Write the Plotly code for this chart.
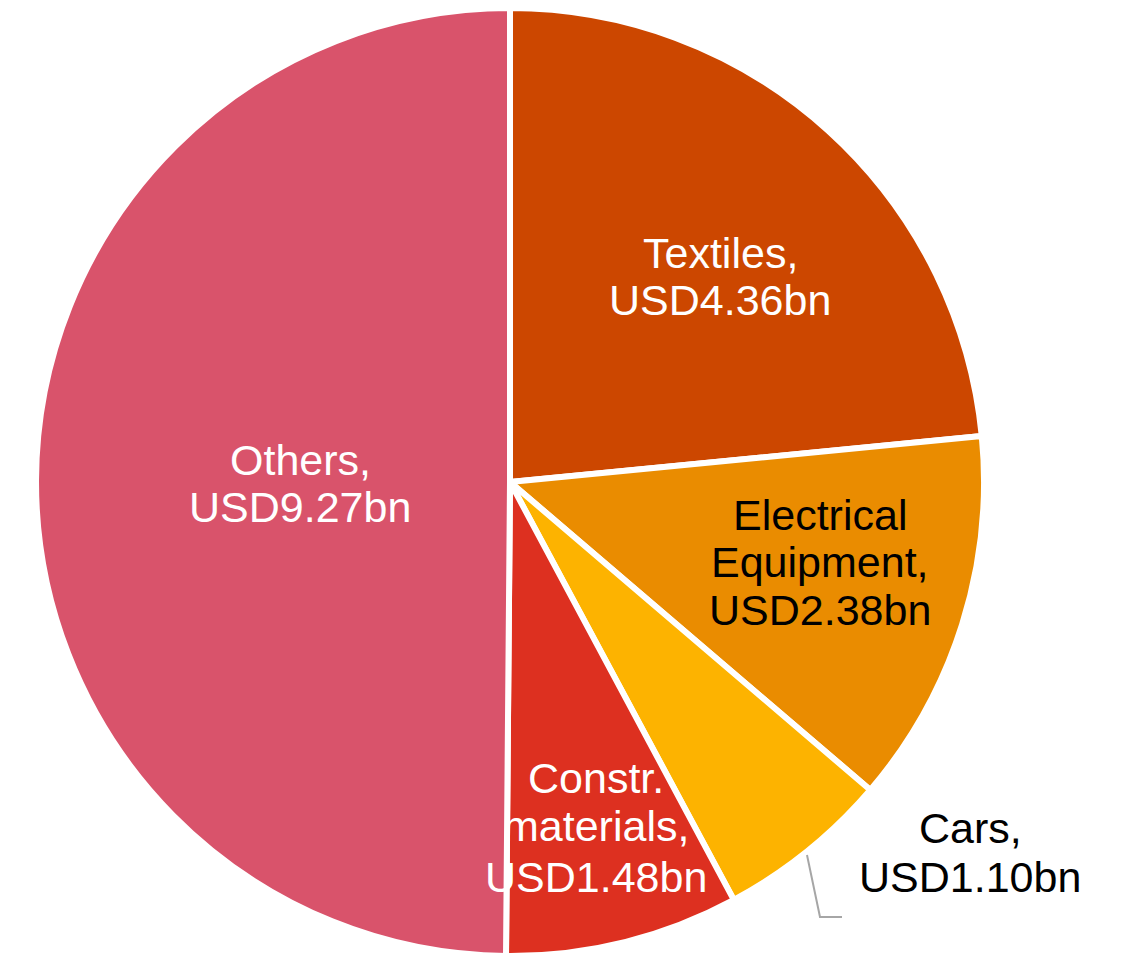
import plotly.graph_objects as go

W, H = 1133, 974
OFF = 8  # page body margin offset in pixels

categories = ["Textiles", "Electrical<br>Equipment", "Cars", "Constr.<br>materials", "Others"]
values = [4.36, 2.38, 1.10, 1.48, 9.27]
colors = ["#CC4700", "#EA8C00", "#FDB300", "#DD3020", "#D9536B"]
text_colors = ["white", "black", "black", "white", "white"]
# label line centers in pixels (x, [y per line])
label_pos = [
    (720, [253, 300]),
    (820, [515, 562, 610]),
    (970, [828, 877]),
    (596, [778, 826, 877]),
    (300, [460, 507]),
]


def px_x(x):
    return (x - OFF) / W


def px_y(y):
    return 1 - (y - OFF) / H


fig = go.Figure(go.Pie(
    labels=[c.replace("<br>", " ") for c in categories],
    values=values,
    sort=False,
    direction="clockwise",
    rotation=0,
    marker=dict(colors=colors, line=dict(color="white", width=6)),
    textinfo="none",
    hoverinfo="label+value",
    showlegend=False,
    domain=dict(x=[px_x(36), px_x(984)], y=[px_y(956), px_y(8)]),
))

annotations = []
for cat, v, tc, (px, ys) in zip(categories, values, text_colors, label_pos):
    lines = cat.split("<br>")
    lines[-1] = lines[-1] + ","
    lines.append(f"USD{v:.2f}bn")
    for line, py in zip(lines, ys):
        annotations.append(dict(
            x=px_x(px), y=px_y(py), xref="paper", yref="paper",
            text=line, showarrow=False, xanchor="center", yanchor="middle",
            font=dict(family="Liberation Sans, Arial, sans-serif", size=43, color=tc),
        ))

# leader line for Cars
pts = [(807, 855), (820, 917), (842, 917)]
path = "M " + " L ".join(f"{px_x(x)},{px_y(y)}" for x, y in pts)
shapes = [dict(type="path", xref="paper", yref="paper", path=path,
               line=dict(color="#A6A6A6", width=2))]

fig.update_layout(
    width=W, height=H,
    margin=dict(l=0, r=0, t=0, b=0),
    paper_bgcolor="white", plot_bgcolor="white",
    annotations=annotations, shapes=shapes,
)

fig.write_html("out.html")
